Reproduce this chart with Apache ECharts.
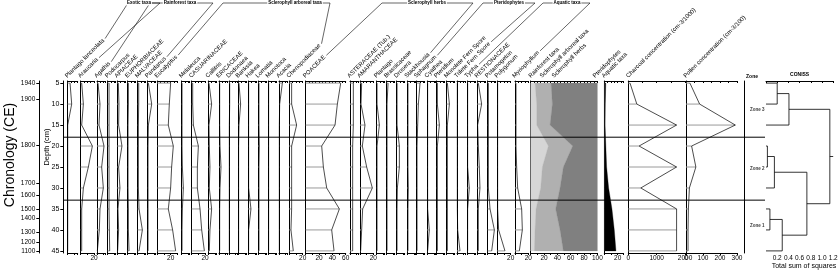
<!DOCTYPE html>
<html>
<head>
<meta charset="utf-8">
<script src="https://cdn.jsdelivr.net/npm/echarts@6/dist/echarts.min.js"></script>
<style>
  html, body { margin: 0; padding: 0; background: #fff; }
  #main { width: 839px; height: 271px; }
</style>
</head>
<body>
<div id="main"></div>
<script>
// sample depths (cm)
const depths = [5, 10, 15, 20, 25, 30, 35, 40, 45];

// chronology axis (CE) and the depth each year sits at
const chronoYears = [1940, 1900, 1800, 1700, 1600, 1500, 1400, 1300, 1200, 1100];
const chronoDepths = [5, 8.8, 19.9, 28.9, 31.8, 35, 37.2, 40.5, 42.9, 45];

// taxa, left to right
const taxa = ['Plantago lanceolata', 'Araucaria', 'Agathis', 'Podocarpus', 'APIACEAE', 'EUPHORBIACEAE',
  'MALVACEAE', 'Pandanus', 'Eucalyptus', 'Melaleuca', 'CASUARINACEAE', 'Callitris', 'ERICACEAE', 'Dodonaea',
  'Banksia', 'Hakea', 'Lomatia', 'Monotoca', 'Acacia', 'Chenopodiaceae', 'POACEAE', 'ASTERACEAE (Tub.)',
  'AMARANTHACEAE', 'Plantago', 'Brassicaceae', 'Drosera', 'Stackhousia', 'Sphagnum', 'Cyathea', 'Pteridium',
  'Monolete Fern Spore', 'Trilete Fern Spore', 'Typha', 'RESTIONACEAE', 'Potamogeton', 'Polygonum', 'Myriophyllum'];

// percentages per sample depth
const plantagoLanceolata = [3.5, 6, 0, 0, 0, 0, 0, 0, 0];
const araucaria = [1.5, 4, 1.5, 17.5, 11.5, 4, 1.5, 1.5, 1.5];
const agathis = [1.5, 4.5, 3, 10.5, 7, 9.5, 4.5, 3.5, 0.5];
const podocarpus = [2, 2, 2, 2, 2, 2, 2, 2.5, 3];
const apiaceae = [1.5, 2.5, 2, 7, 2, 4, 1, 2, 0.5];
const euphorbiaceae = [1, 1, 0.5, 0.5, 0.5, 0.5, 1, 1, 2];
const malvaceae = [1.5, 1.5, 1, 1, 1, 1, 2, 7, 2];
const pandanus = [1, 6, 1, 0.5, 0.5, 0.5, 0.5, 0.5, 0.5];
const eucalyptus = [20, 18, 16.5, 24, 21.5, 20, 16.5, 23, 27.5];
const melaleuca = [0.5, 0.5, 0.5, 0.5, 1, 2.5, 1, 0.5, 0.5];
const casuarinaceae = [1.5, 1.5, 2.5, 10, 8.5, 8.5, 12.5, 15, 19];
const callitris = [1, 5, 1, 1.5, 2.5, 1.5, 5, 2.5, 1.5];
const ericaceae = [1, 1, 1, 1.5, 3, 1.5, 1, 1, 1];
const dodonaea = [1, 1, 0.5, 0.5, 0.5, 0.5, 0.5, 0.5, 0.5];
const banksia = [1, 3.5, 1, 0.5, 0.5, 0.5, 0.5, 0.5, 0.5];
const hakea = [0.5, 0.5, 0.5, 0.5, 0.5, 0.5, 4, 0.5, 0.5];
const lomatia = [1, 1, 1, 1.5, 1, 1, 1, 1, 1];
const monotoca = [0.5, 0.5, 0.5, 0.5, 0.5, 0.5, 0.5, 0.5, 0.5];
const acacia = [5, 1, 0.5, 0.5, 0.5, 0.5, 0.5, 0.5, 0.5];
const chenopodiaceae = [3.5, 3.5, 11, 3.5, 3.5, 3.5, 3.5, 2.5, 6];
const poaceae = [52.5, 47.5, 44, 24, 26.5, 31.5, 50.5, 39, 42.5];
const asteraceae = [5, 5, 5, 4, 4, 4, 4, 4, 4];
const amaranthaceae = [2.5, 1.5, 7.5, 3.5, 10, 18.5, 4, 2.5, 1];
const plantago = [0.5, 0.5, 4, 0.5, 0.5, 0.5, 0.5, 0.5, 0.5];
const brassicaceae = [2, 0.5, 0.5, 0.5, 0.5, 0.5, 0.5, 0.5, 0.5];
const drosera = [0.5, 0.5, 0.5, 4, 4, 1, 0.5, 0.5, 0.5];
const stackhousia = [1, 1, 1, 1, 1, 1.5, 1, 1, 1];
const sphagnum = [5, 2.5, 1.5, 0.5, 0.5, 0.5, 0.5, 0.5, 0.5];
const cyathea = [0.5, 0.5, 0.5, 0.5, 0.5, 0.5, 0.5, 3, 0.5];
const pteridium = [1, 1, 4, 1, 1, 1, 1, 1, 1];
const monolete = [1, 4, 1, 1, 1, 1, 1, 1, 1];
const trilete = [0.5, 0.5, 0.5, 0.5, 0.5, 0.5, 0.5, 1, 4.5];
const typha = [0.5, 0.5, 0.5, 0.5, 0.5, 3, 0.5, 0.5, 0.5];
const restionaceae = [1.5, 6.5, 0.5, 1.5, 3, 4, 1.5, 1.5, 1.5];
const potamogeton = [1, 1, 1, 1, 1, 1, 3.5, 10, 6];
const polygonum = [0.5, 0.5, 0.5, 0.5, 0.5, 0.5, 0.5, 2, 11.5];
const myriophyllum = [1.5, 1.5, 1.5, 1.5, 2.5, 4, 10, 11, 6.5];

const taxonValues = [plantagoLanceolata, araucaria, agathis, podocarpus, apiaceae, euphorbiaceae, malvaceae,
  pandanus, eucalyptus, melaleuca, casuarinaceae, callitris, ericaceae, dodonaea, banksia, hakea, lomatia,
  monotoca, acacia, chenopodiaceae, poaceae, asteraceae, amaranthaceae, plantago, brassicaceae, drosera,
  stackhousia, sphagnum, cyathea, pteridium, monolete, trilete, typha, restionaceae, potamogeton, polygonum,
  myriophyllum];

// summary (%)
const rainforestPct = [6.5, 9, 9, 26.5, 17.5, 15, 8, 6.5, 5.5];
const arborealPct = [24, 23.5, 20, 36.5, 31.5, 29, 29.5, 37.5, 43.5];
const herbsPct = [69.5, 67.5, 71, 37, 51, 56, 62.5, 56, 51];
const pteridophytePct = [1.5, 1, 0.8, 1, 1, 1, 1, 1, 1];
const aquaticPct = [0.8, 0.3, 0.2, 1.3, 2.5, 5.5, 10.5, 14, 16.5];

// concentrations
const charcoalConc = [60, 300, 1700, 380, 1700, 440, 1700, 1700, 1700];
const pollenConc = [23, 80, 290, 33, 58, 20, 14, 12, 12];

// zones (boundaries in cm) and CONISS merges: [a, b, height], negative = sample number
const zoneNames = ['Zone 3', 'Zone 2', 'Zone 1'];
const zoneBounds = [17.9, 32.9];
const conissMerges = [[-1, -2, 0.2], [0, -3, 0.41], [-4, -5, 0.025], [2, -6, 0.15],
  [-7, -8, 0.07], [4, -9, 0.29], [3, 5, 0.73], [1, 6, 1.14]];

// groups over the taxon labels
const groupNames = ['Exotic taxa', 'Rainforest taxa', 'Sclerophyll arboreal taxa', 'Sclerophyll herbs', 'Pteridophytes', 'Aquatic taxa'];
const groupFirst = [0, 2, 8, 20, 27, 32];
const groupLast = [1, 7, 19, 26, 31, 36];

// ---- layout ----
const panelLeft = [67.7, 80.7, 97, 107.7, 117.3, 127.7, 137.7, 147.7, 157.3, 181.7, 191.7, 208.3, 219, 229,
  238.3, 248.3, 258.3, 268.3, 279, 289.3, 305.7, 350, 360, 376.7, 386.7, 396.7, 407.3, 416.7, 427.3, 436.7,
  446.7, 457, 467.3, 477.3, 487.7, 497.3, 515];
const panelMax = [15, 20, 12, 12, 12, 12, 12, 12, 30, 12, 20, 12, 12, 12, 12, 12, 12, 12, 12, 20, 60, 12, 20,
  12, 12, 12, 12, 12, 12, 12, 12, 12, 12, 12, 12, 20, 20];
const groupLineL = [128, 150, 223, 382, 483, 543];
const groupLineR = [160, 213, 330, 473, 535, 590];
const groupTextX = [139, 180, 295, 427, 509, 567];

const FONT = '"Liberation Sans", Arial, Helvetica, sans-serif';
const TOP = 81, HEIGHT = 172, YMIN = 4.5, YMAX = 45.5;
const PCT = 2 / 3;

const grids = [], xAxes = [], yAxes = [], series = [], graphics = [];
const black = { color: '#000', width: 1 };

function addGrid(left, width) {
  grids.push({ left: left, top: TOP, width: width, height: HEIGHT, containLabel: false, outerBoundsMode: 'none' });
  return grids.length - 1;
}

function depthAxis(gi, show) {
  yAxes.push({
    gridIndex: gi, type: 'value', min: YMIN, max: YMAX, inverse: true,
    axisLine: { show: show, onZero: false, lineStyle: black },
    axisTick: { show: false }, axisLabel: { show: false }, splitLine: { show: false }
  });
}

const pctFmt = v => (v > 0 && Math.abs(v % 20) < 1e-6) ? String(v) : '';

function addPanel(left, xmax, pxPerUnit, botInt, topInt, fmt) {
  const gi = addGrid(left, xmax * pxPerUnit);
  depthAxis(gi, true);
  const xi = xAxes.length;
  xAxes.push({
    gridIndex: gi, type: 'value', position: 'bottom', min: 0, max: xmax, interval: botInt,
    axisLine: { show: true, onZero: false, lineStyle: black },
    axisTick: { show: true, length: 2, lineStyle: black },
    axisLabel: { fontSize: 6.5, fontFamily: FONT, color: '#000', margin: 2, formatter: fmt, showMinLabel: true, showMaxLabel: true },
    splitLine: { show: false }
  });
  xAxes.push({
    gridIndex: gi, type: 'value', position: 'top', min: 0, max: xmax, interval: topInt,
    axisLine: { show: true, onZero: false, lineStyle: black },
    axisTick: { show: true, inside: true, length: 2, lineStyle: black },
    axisLabel: { show: false }, splitLine: { show: false }
  });
  return { xi: xi, yi: gi };
}

function barItem(params, api) {
  const a = api.coord([0, api.value(1)]);
  const b = api.coord([api.value(0), api.value(1)]);
  return { type: 'line', shape: { x1: a[0], y1: a[1], x2: b[0], y2: b[1] }, style: { stroke: '#9a9a9a', lineWidth: 1 } };
}

function addCurve(ax, values) {
  const pts = values.map((v, i) => [v, depths[i]]);
  series.push({ type: 'custom', xAxisIndex: ax.xi, yAxisIndex: ax.yi, data: pts, encode: { x: 0, y: 1 },
    renderItem: barItem, silent: true, z: 2 });
  series.push({ type: 'line', xAxisIndex: ax.xi, yAxisIndex: ax.yi, data: pts, symbol: 'none',
    lineStyle: { color: '#000', width: 0.7 }, silent: true, z: 3 });
}

// canvas for text widths
const measureCtx = document.createElement('canvas').getContext('2d');
const LABEL_SIZE = 6;
function textW(t, size, weight) {
  measureCtx.font = (weight || 'normal') + ' ' + size + 'px ' + FONT;
  return measureCtx.measureText(t).width;
}
const C45 = Math.SQRT1_2;
function slantLabel(text, x) {
  graphics.push({ type: 'text', x: x, y: 79, rotation: Math.PI / 4, silent: true,
    style: { text: text, fontSize: LABEL_SIZE, fontFamily: FONT, fill: '#000', align: 'left', verticalAlign: 'bottom' } });
}
function labelEnd(text, x) {
  const w = textW(text, LABEL_SIZE) + 2;
  return [x + w * C45 - 2.5 * C45, 79 - w * C45 - 2.5 * C45];
}

// ---- taxon panels ----
taxa.forEach((name, i) => {
  const ax = addPanel(panelLeft[i], panelMax[i], PCT, 10, 5, pctFmt);
  addCurve(ax, taxonValues[i]);
  slantLabel(name, panelLeft[i] + 0.5);
});

// ---- summary stacked panel ----
function stackPanel(left, xmax, layers, colors, botInt) {
  const ax = addPanel(left, xmax, PCT, botInt, 5, pctFmt);
  const cum = [depths.map(() => 0)];
  layers.forEach((arr, k) => cum.push(arr.map((v, i) => cum[k][i] + v)));
  series.push({
    type: 'custom', xAxisIndex: ax.xi, yAxisIndex: ax.yi, silent: true, z: 2,
    data: layers.map((l, k) => [k, 5]), encode: { x: 0, y: 1 },
    renderItem: (params, api) => {
      const k = params.dataIndex;
      const pts = [];
      depths.forEach((d, i) => pts.push(api.coord([cum[k][i], d])));
      for (let i = depths.length - 1; i >= 0; i--) pts.push(api.coord([cum[k + 1][i], depths[i]]));
      return { type: 'polygon', shape: { points: pts }, style: { fill: colors[k], stroke: colors[k], lineWidth: 0.3 } };
    }
  });
}
stackPanel(530.7, 100, [rainforestPct, arborealPct, herbsPct], ['#d6d6d6', '#b0b0b0', '#808080'], 10);
stackPanel(604.3, 28, [pteridophytePct, aquaticPct], ['#333', '#000'], 10);

// ---- concentrations ----
const charcoalAx = addPanel(628.3, 2000, 0.0284, 1000, 500, v => String(v));
addCurve(charcoalAx, charcoalConc);
const pollenAx = addPanel(686, 300, 0.17, 100, 50, v => String(v));
addCurve(pollenAx, pollenConc);

[['Rainforest taxa', 531.7], ['Sclerophyll arboreal taxa', 543], ['Sclerophyll herbs', 555],
 ['Pteridophytes', 596], ['Aquatic taxa', 605], ['Charcoal concentration (cm-3/1000)', 629.3],
 ['Pollen concentration (cm-3/100)', 686.7]].forEach(p => slantLabel(p[0], p[1]));

// ---- group headers ----
groupNames.forEach((g, k) => {
  const line = (x1, y1, x2, y2) => graphics.push({ type: 'line', silent: true,
    shape: { x1: x1, y1: y1, x2: x2, y2: y2 }, style: { stroke: '#000', lineWidth: 0.6 } });
  line(groupLineL[k], 3, groupLineR[k], 3);
  const e1 = labelEnd(taxa[groupFirst[k]], panelLeft[groupFirst[k]] + 0.5);
  const e2 = labelEnd(taxa[groupLast[k]], panelLeft[groupLast[k]] + 0.5);
  line(e1[0], e1[1], groupLineL[k], 3);
  line(e2[0], e2[1], groupLineR[k], 3);
  graphics.push({ type: 'text', x: groupTextX[k], y: 3, silent: true, z: 10,
    style: { text: g, fontSize: 4.5, fontWeight: 'bold', fontFamily: FONT, fill: '#000', align: 'center',
      verticalAlign: 'middle', backgroundColor: '#fff', padding: [0, 1] } });
});

// ---- depth axis ----
const depthTicks = depths.slice();
const dg = addGrid(63.3, 1);
yAxes.push({
  gridIndex: dg, type: 'value', min: YMIN, max: YMAX, inverse: true,
  axisLine: { show: true, onZero: false, lineStyle: black },
  axisTick: { show: true, length: 3, customValues: depthTicks, lineStyle: black },
  axisLabel: { fontSize: 7, fontFamily: FONT, color: '#000', margin: 4, customValues: depthTicks },
  splitLine: { show: false }
});
xAxes.push({ gridIndex: dg, type: 'value', show: false }, { gridIndex: dg, type: 'value', position: 'top', show: false });

// ---- chronology axis ----
const cg = addGrid(39.3, 1);
yAxes.push({
  gridIndex: cg, type: 'value', min: YMIN, max: YMAX, inverse: true,
  axisLine: { show: true, onZero: false, lineStyle: black },
  axisTick: { show: true, length: 3, customValues: chronoDepths, lineStyle: black },
  axisLabel: { fontSize: 6.5, fontFamily: FONT, color: '#000', margin: 4, customValues: chronoDepths,
    formatter: v => {
      const i = chronoDepths.findIndex(d => Math.abs(d - v) < 1e-6);
      return i < 0 ? '' : String(chronoYears[i]);
    } },
  splitLine: { show: false }
});
xAxes.push({ gridIndex: cg, type: 'value', show: false }, { gridIndex: cg, type: 'value', position: 'top', show: false });

graphics.push({ type: 'text', x: 10, y: 155, rotation: Math.PI / 2, silent: true,
  style: { text: 'Chronology (CE)', fontSize: 14, fontFamily: FONT, fill: '#000', align: 'center', verticalAlign: 'middle' } });
graphics.push({ type: 'text', x: 47, y: 147, rotation: Math.PI / 2, silent: true,
  style: { text: 'Depth (cm)', fontSize: 7.5, fontFamily: FONT, fill: '#000', align: 'center', verticalAlign: 'middle' } });

// ---- zones ----
const zg = addGrid(744.3, 20);
depthAxis(zg, true);
const zxi = xAxes.length;
xAxes.push({ gridIndex: zg, type: 'value', min: 0, max: 1, show: false }, { gridIndex: zg, type: 'value', position: 'top', show: false });
const zoneEdges = [5].concat(zoneBounds, [45]);
series.push({
  type: 'scatter', xAxisIndex: zxi, yAxisIndex: zg, symbolSize: 0, silent: true,
  data: zoneNames.map((n, k) => ({ name: n, value: [0.65, (zoneEdges[k] + zoneEdges[k + 1]) / 2] })),
  label: { show: true, position: 'inside', formatter: '{b}', fontSize: 4.5, fontWeight: 'bold', fontFamily: FONT, color: '#000' }
});
graphics.push({ type: 'text', x: 752, y: 77, silent: true,
  style: { text: 'Zone', fontSize: 5, fontWeight: 'bold', fontFamily: FONT, fill: '#000', align: 'center', verticalAlign: 'middle' } });

// ---- CONISS ----
const kg = addGrid(766, 67.2);
depthAxis(kg, false);
const kxi = xAxes.length;
xAxes.push({
  gridIndex: kg, type: 'value', position: 'bottom', min: 0, max: 1.2, interval: 0.2,
  axisLine: { show: false }, axisTick: { show: false },
  axisLabel: { fontSize: 6.5, fontFamily: FONT, color: '#000', margin: 2, formatter: v => v === 0 ? '' : v.toFixed(1) },
  splitLine: { show: false }
});
xAxes.push({
  gridIndex: kg, type: 'value', position: 'top', min: 0, max: 1.2, interval: 0.2,
  axisLine: { show: true, onZero: false, lineStyle: black },
  axisTick: { show: true, inside: true, length: 2, lineStyle: black },
  axisLabel: { show: false }, splitLine: { show: false },
  name: 'CONISS', nameLocation: 'middle', nameGap: 4,
  nameTextStyle: { fontSize: 5, fontWeight: 'bold', fontFamily: FONT, color: '#000' }
});
graphics.push({ type: 'text', x: 804, y: 266.5, silent: true,
  style: { text: 'Total sum of squares', fontSize: 7, fontFamily: FONT, fill: '#000', align: 'center', verticalAlign: 'middle' } });
const nodeY = [], nodeH = [], dendro = [];
conissMerges.forEach((m, k) => {
  const ya = m[0] < 0 ? depths[-m[0] - 1] : nodeY[m[0]];
  const ha = m[0] < 0 ? 0 : nodeH[m[0]];
  const yb = m[1] < 0 ? depths[-m[1] - 1] : nodeY[m[1]];
  const hb = m[1] < 0 ? 0 : nodeH[m[1]];
  dendro.push([ha, ya, m[2], yb, hb]);
  nodeY[k] = (ya + yb) / 2;
  nodeH[k] = m[2];
});
const rootK = conissMerges.length - 1;
dendro.push([nodeH[rootK], nodeY[rootK], 1.2, nodeY[rootK], 1.2]);
series.push({
  type: 'custom', xAxisIndex: kxi, yAxisIndex: kg, silent: true, data: dendro,
  encode: { x: [0, 2, 4], y: [1, 3] },
  renderItem: (params, api) => {
    const pts = [
      api.coord([api.value(0), api.value(1)]), api.coord([api.value(2), api.value(1)]),
      api.coord([api.value(2), api.value(3)]), api.coord([api.value(4), api.value(3)])
    ];
    return { type: 'polyline', shape: { points: pts }, style: { stroke: '#000', lineWidth: 0.8, fill: null } };
  }
});

// ---- zone boundary lines across the diagram ----
const og = addGrid(63.3, 701.7);
depthAxis(og, false);
const oxi = xAxes.length;
xAxes.push({ gridIndex: og, type: 'value', min: 0, max: 1, show: false }, { gridIndex: og, type: 'value', position: 'top', show: false });
zoneBounds.forEach(b => series.push({
  type: 'line', xAxisIndex: oxi, yAxisIndex: og, data: [[0, b], [1, b]], symbol: 'none', silent: true, z: 5,
  lineStyle: { color: '#000', width: 1 }
}));

const chart = echarts.init(document.getElementById('main'));
chart.setOption({
  animation: false,
  backgroundColor: '#fff',
  textStyle: { fontFamily: FONT },
  grid: grids,
  xAxis: xAxes,
  yAxis: yAxes,
  series: series,
  graphic: graphics
});
</script>
</body>
</html>
